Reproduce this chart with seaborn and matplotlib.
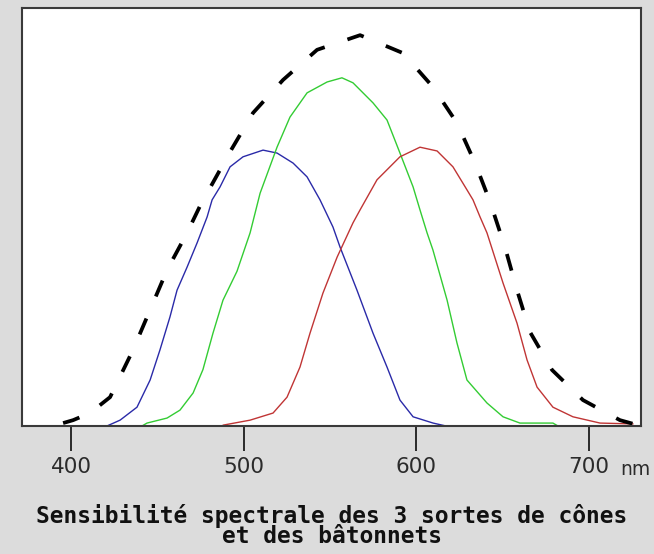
import matplotlib
matplotlib.use("Agg")
import matplotlib.pyplot as plt
import seaborn as sns
import pandas as pd

# Relative spectral sensitivity (arbitrary units, 0-100) against wavelength (nm)
blue_nm = [399.4, 420.8, 428.4, 438.2, 445.8, 451.5, 457.3, 461.4, 467.2, 473.0,
           478.8, 481.7, 486.3, 492.1, 499.6, 511.2, 519.3, 528.6, 536.7, 544.2,
           551.7, 555.8, 565.6, 574.9, 583.0, 590.5, 598.1, 609.7, 617.2]
blue_val = [0.0, 0.0, 1.4, 4.5, 11.0, 18.2, 26.1, 32.5, 38.0, 43.8,
            50.0, 54.1, 57.2, 62.0, 64.4, 66.0, 65.3, 62.9, 59.6, 54.1,
            47.6, 42.8, 32.5, 22.2, 14.1, 6.2, 2.2, 0.7, 0.0]

green_nm = [441.1, 444.0, 455.6, 463.1, 470.7, 476.4, 482.2, 488.0, 496.1, 503.7,
            509.5, 519.3, 526.8, 536.7, 548.3, 556.9, 563.3, 574.9, 583.0, 590.5,
            598.1, 602.1, 606.2, 609.6, 617.8, 623.5, 629.3, 640.9, 650.2, 660.0,
            679.1, 682.0]
green_val = [0.0, 0.7, 1.9, 3.8, 7.9, 13.5, 22.2, 30.1, 37.0, 46.2,
             55.7, 66.7, 73.9, 79.7, 82.3, 83.3, 82.1, 77.3, 73.2, 65.3,
             57.2, 51.7, 46.2, 42.1, 30.1, 19.9, 11.0, 5.5, 2.2, 0.7,
             0.7, 0.0]

red_nm = [488.0, 503.7, 517.0, 525.1, 532.6, 538.4, 545.9, 554.1, 558.7, 563.3,
          567.4, 577.2, 590.5, 602.1, 612.0, 621.2, 629.3, 632.8, 636.9, 640.9,
          650.2, 658.3, 664.1, 669.9, 679.1, 690.7, 706.4, 725.5]
red_val = [0.2, 1.4, 3.1, 6.9, 14.1, 22.2, 31.8, 40.4, 44.5, 48.6,
           51.7, 58.9, 64.4, 66.7, 65.8, 62.0, 56.5, 54.1, 50.0, 46.2,
           34.2, 24.6, 15.8, 9.3, 4.5, 2.2, 0.7, 0.5]

rods_nm = [395.4, 401.2, 411.0, 422.6, 435.9, 445.8, 455.6, 467.2, 476.4, 478.8,
           492.1, 505.4, 522.8, 542.5, 567.4, 592.3, 609.6, 623.5, 634.0, 642.7,
           651.3, 658.3, 665.8, 678.6, 696.5, 717.9, 730.1]
rods_val = [0.7, 1.4, 3.1, 6.9, 18.2, 27.8, 37.3, 46.2, 54.1, 55.7,
            65.6, 74.9, 82.8, 90.0, 93.5, 89.2, 81.1, 72.5, 62.9, 53.6,
            42.8, 32.5, 22.5, 13.4, 6.2, 1.4, 0.0]

tick_nm = [400, 500, 600, 700]
tick_labels = ["400", "500", "600", "700"]
caption = "Sensibilité spectrale des 3 sortes de cônes\net des bâtonnets"

sns.set_theme(style="white")
plt.rcParams["font.family"] = ["DejaVu Sans"]

bg = "#dcdcdc"
fig = plt.figure(figsize=(6.54, 5.54), dpi=100, facecolor=bg)
ax = fig.add_axes([22 / 654, 128 / 554, 619 / 654, 418 / 554])
ax.set_facecolor("white")

curves = [
    (blue_nm, blue_val, "#2a2aa8"),
    (green_nm, green_val, "#33cc33"),
    (red_nm, red_val, "#c03535"),
]
for xs, ys, col in curves:
    df = pd.DataFrame({"nm": xs, "val": ys})
    sns.lineplot(data=df, x="nm", y="val", ax=ax, color=col, linewidth=1.0,
                 estimator=None, sort=False)

# Rods: thick black dashed envelope (dash pattern in line-width units)
rods = pd.DataFrame({"nm": rods_nm, "val": rods_val})
sns.lineplot(data=rods, x="nm", y="val", ax=ax, color="black", linewidth=2.7,
             estimator=None, sort=False)
rod_line = ax.lines[-1]
rod_line.set_linestyle((0, (4.6, 6.4)))
rod_line.set_dash_capstyle("butt")

ax.set_xlim(371.6, 730.1)
ax.set_ylim(0, 100)
ax.set_xlabel("")
ax.set_ylabel("")
ax.set_yticks([])
ax.set_xticks(tick_nm)
ax.set_xticklabels(tick_labels)
ax.tick_params(axis="x", direction="out", length=18, width=1.4, color="#2b2b2b",
               pad=4.5, labelsize=15.5, labelcolor="#2b2b2b", bottom=True)
for side in ["left", "right", "top", "bottom"]:
    ax.spines[side].set_visible(True)
    ax.spines[side].set_color("#3a3a3a")
    ax.spines[side].set_linewidth(1.5)

fig.text(620 / 654, (554 - 475) / 554, "nm", ha="left", va="baseline",
         fontsize=13.5, color="#2b2b2b")

fig.text(332 / 654, (554 - 504) / 554, caption, ha="center", va="top",
         ma="center", fontsize=16.5, fontweight="bold", family="DejaVu Sans Mono",
         linespacing=0.85, color="#111111")

fig.savefig("out.png", dpi=100, facecolor=bg)
